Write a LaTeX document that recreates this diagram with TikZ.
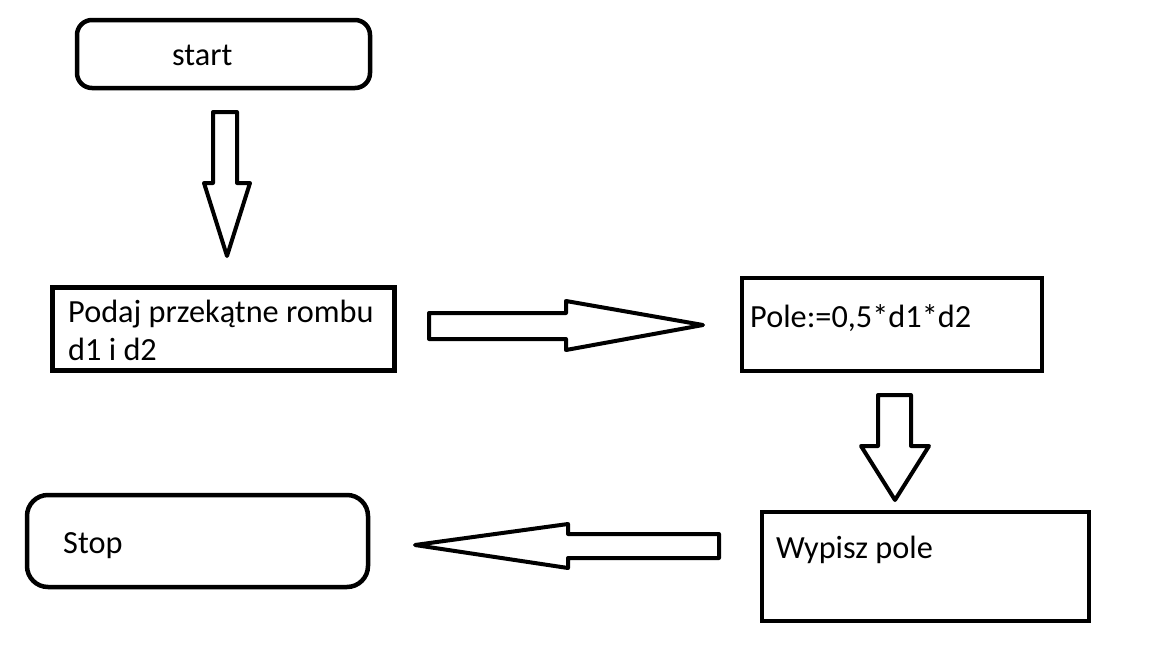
\documentclass[tikz,border=0pt]{standalone}
\usepackage{fontspec}
\setmainfont{Carlito}
\begin{document}
\begin{tikzpicture}[x=1pt,y=-1pt,
  box/.style={draw=black,line width=4.5pt,fill=white,inner sep=0pt},
  txt/.style={anchor=base west,inner sep=0pt,font=\fontsize{32.3}{38}\selectfont},
  blockarrow/.style={draw=black,line width=4pt,line join=round,fill=white}]
\useasboundingbox (0,0) rectangle (1152,648);
\fill[white] (0,0) rectangle (1152,648);
% boxes
\node[box,rounded corners=15pt,minimum width=293pt,minimum height=68pt] (start) at (223.5,54) {};
\node[box,minimum width=342pt,minimum height=83pt] (input) at (223.5,329) {};
\node[box,minimum width=300pt,minimum height=93pt] (calc) at (892,324.5) {};
\node[box,minimum width=327pt,minimum height=109pt] (out) at (925.5,566.5) {};
\node[box,rounded corners=21pt,minimum width=341pt,minimum height=92pt] (stop) at (197.5,541) {};
% texts
\node[txt] (tstart) at (172,65) {start};
\node[txt] (tinput) at (68,322) {Podaj przekątne rombu};
\node[txt] (tinput2) at (68,360) {d1 i d2};
\node[txt] (tcalc) at (750,327) {Pole:=0,5*d1*d2};
\node[txt] (tout) at (776,558) {Wypisz pole};
\node[txt] (tstop) at (63,553) {Stop};
% block arrows
\draw[blockarrow] (213,112) -- (237,112) -- (237,183) -- (250,183) -- (227,256) -- (204,183) -- (213,183) -- cycle;
\draw[blockarrow] (429,313) -- (566,313) -- (566,301) -- (703,325) -- (566,350) -- (566,339) -- (429,339) -- cycle;
\draw[blockarrow] (878,395) -- (911,395) -- (911,446) -- (929,446) -- (895,500) -- (861,446) -- (878,446) -- cycle;
\draw[blockarrow] (719,534) -- (568,534) -- (568,524) -- (415,545) -- (568,568) -- (568,558) -- (719,558) -- cycle;
\end{tikzpicture}
\end{document}
